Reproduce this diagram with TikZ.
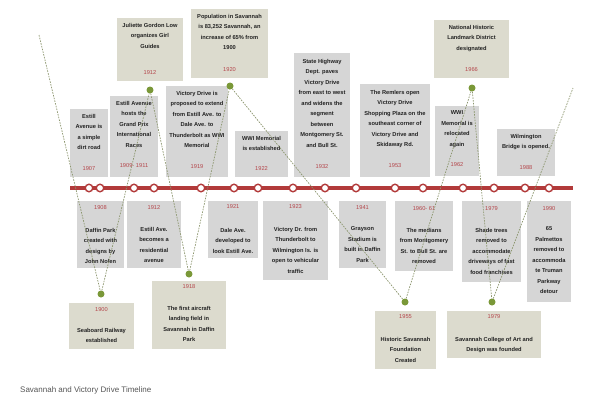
\documentclass[tikz,border=0pt]{standalone}
\usepackage{fontspec}
\setmainfont{Liberation Sans}
\usetikzlibrary{fit}
\definecolor{tlred}{RGB}{178,58,58}
\definecolor{yrred}{RGB}{180,70,75}
\definecolor{gbx}{RGB}{214,214,214}
\definecolor{bbx}{RGB}{220,219,206}
\definecolor{dotgreen}{RGB}{122,152,56}
\definecolor{dashc}{RGB}{140,150,110}
\definecolor{txt}{RGB}{34,34,34}
\definecolor{capc}{RGB}{85,85,85}
\tikzset{
 graybox/.style={fill=gbx, inner sep=0pt, outer sep=0pt},
 beigebox/.style={fill=bbx, inner sep=0pt, outer sep=0pt},
 desc/.style={anchor=north, align=center, inner sep=0pt, text=txt, font=\bfseries\fontsize{5.7}{10.5}\selectfont},
 yr/.style={inner sep=0pt, text=yrred, font=\fontsize{5.7}{6}\selectfont},
 tline/.style={draw=tlred, line width=3.2pt},
 tc/.style={circle, draw=tlred, fill=white, line width=1.4pt, minimum size=7.5pt, inner sep=0pt},
 gdot/.style={circle, fill=dotgreen, minimum size=7pt, inner sep=0pt},
 conn/.style={draw=dashc, line width=0.7pt, dash pattern=on 1.6pt off 1.2pt},
 captext/.style={anchor=west, inner sep=0pt, text=capc, font=\fontsize{8}{10}\selectfont},
}
\newcommand\ev[9]{%
 \node[#2, fit={(#3,#4) (#5,#6)}] (#1) {};
 \node[yr] (#1y) at ({(#3+#5)/2},#8) {#9};
 \node[desc] (#1t) at ({(#3+#5)/2},{#7-2.3}) {\evtext};
}
\begin{document}
\begin{tikzpicture}[x=1pt,y=-1pt]
\fill[white] (0,0) rectangle (600,400);
\useasboundingbox (0,0) rectangle (600,400);
% upper gray
\def\evtext{Estill\\Avenue is\\a simple\\dirt road}\ev{e1907}{graybox}{70}{109}{108}{177}{116}{169}{1907}
\def\evtext{Estill Avenue\\hosts the\\Grand Prix\\International\\Races}\ev{e1909}{graybox}{110}{96}{158}{177}{103}{166}{1909- 1911}
\def\evtext{Victory Drive is\\proposed to extend\\from Estill Ave. to\\Dale Ave. to\\Thunderbolt  as WWI\\Memorial}\ev{e1919}{graybox}{166}{86}{228}{177}{93}{167}{1919}
\def\evtext{WWI Memorial\\is established}\ev{e1922}{graybox}{235}{131}{288}{177}{138}{169}{1922}
\def\evtext{State Highway\\Dept. paves\\Victory Drive\\from east to west\\and widens the\\segment\\between\\Montgomery St.\\and Bull St.}\ev{e1932}{graybox}{294}{53}{350}{177}{61}{167}{1932}
\def\evtext{The Remlers open\\Victory Drive\\Shopping  Plaza on the\\southeast corner of\\Victory Drive and\\Skidaway Rd.}\ev{e1953}{graybox}{360}{84}{430}{177}{92}{166}{1953}
\def\evtext{WWI\\Memorial is\\relocated\\again}\ev{e1962}{graybox}{435}{106}{479}{176}{113}{165}{1962}
\def\evtext{Wilmington\\Bridge is opened.}\ev{e1988}{graybox}{497}{129}{555}{176}{136}{168}{1988}
% upper beige
\def\evtext{Juliette Gordon  Low\\organizes Girl\\Guides}\ev{e1912a}{beigebox}{117}{18}{183}{81}{25}{73}{1912}
\def\evtext{Population in Savannah\\is 83,252  Savannah, an\\increase of 65\% from\\1900}\ev{e1920}{beigebox}{191}{9}{268}{78}{16}{70}{1920}
\def\evtext{National Historic\\Landmark District\\designated}\ev{e1966}{beigebox}{434}{20}{509}{78}{27}{70}{1966}
% lower gray
\def\evtext{Daffin Park\\created with\\designs by\\John Nolen}\ev{e1908}{graybox}{77}{201}{124}{268}{230}{208}{1908}
\def\evtext{Estill Ave.\\becomes a\\residential\\avenue}\ev{e1912b}{graybox}{127}{201}{181}{268}{229}{208}{1912}
\def\evtext{Dale Ave.\\developed to\\look Estill Ave.}\ev{e1921}{graybox}{208}{201}{258}{258}{230}{207}{1921}
\def\evtext{Victory Dr. from\\Thunderbolt to\\Wilmington Is. is\\open to vehicular\\traffic}\ev{e1923}{graybox}{263}{201}{328}{280}{229}{207}{1923}
\def\evtext{Grayson\\Stadium is\\built in Daffin\\Park}\ev{e1941}{graybox}{339}{201}{386}{268}{229}{208}{1941}
\def\evtext{The medians\\from Montgomery\\St. to Bull St. are\\removed}\ev{e1960}{graybox}{395}{201}{453}{271}{230}{209}{1960- 61}
\def\evtext{Shade trees\\removed to\\accommodate\\driveways of fast\\food franchises}\ev{e1979a}{graybox}{462}{201}{521}{282}{230}{209}{1979}
\def\evtext{65\\Palmettos\\removed to\\accommoda\\te Truman\\Parkway\\detour}\ev{e1990}{graybox}{527}{201}{571}{302}{229}{209}{1990}
% lower beige
\def\evtext{Seaboard  Railway\\established}\ev{e1900}{beigebox}{69}{303}{134}{349}{330}{310}{1900}
\def\evtext{The first aircraft\\landing field in\\Savannah in Daffin\\Park}\ev{e1918}{beigebox}{152}{281}{226}{349}{308}{287}{1918}
\def\evtext{Historic Savannah\\Foundation\\Created}\ev{e1955}{beigebox}{375}{311}{436}{369}{339}{317}{1955}
\def\evtext{Savannah College of Art and\\Design was founded}\ev{e1979b}{beigebox}{447}{311}{541}{358}{339}{317}{1979}
% timeline
\coordinate (tlL) at (70,188);
\coordinate (tlR) at (573,188);
\draw[tline] (tlL) -- (tlR);
\foreach \x [count=\i] in {89,100,134,154,201,234,258,293,325,356,395,423,463,494,525,549}
  \node[tc] (c\i) at (\x,188) {};
% green dots
\node[gdot] (d1900) at (101,294) {};
\node[gdot] (d1912) at (150,90) {};
\node[gdot] (d1918) at (189,274) {};
\node[gdot] (d1920) at (230,86) {};
\node[gdot] (d1955) at (405,302) {};
\node[gdot] (d1966) at (472,88) {};
\node[gdot] (d1979) at (492,302) {};
\coordinate (fL) at (39,35);
\coordinate (fR) at (573,88);
\draw[conn] (fL) -- (d1900) -- (d1912) -- (d1918) -- (d1920) -- (d1955) -- (d1966) -- (d1979) -- (fR);
% caption
\node[captext] (cap) at (20,390) {Savannah and Victory Drive Timeline};
\end{tikzpicture}
\end{document}
